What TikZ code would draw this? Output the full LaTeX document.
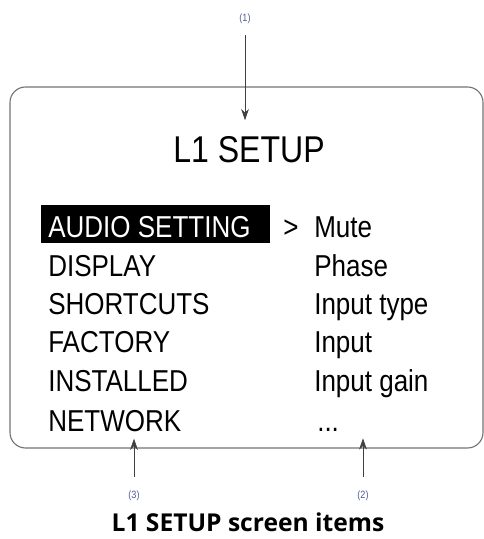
\documentclass[tikz,border=0pt]{standalone}
\usepackage{fontspec}
\setmainfont{Liberation Sans}[FakeStretch=0.86]
\newfontfamily\captionfont{Open Sans}
\usepackage{xcolor}
\usepackage{tikz}
\usetikzlibrary{arrows.meta}
\definecolor{calloutblue}{RGB}{80,90,150}

\begin{document}
\begin{tikzpicture}[x=0.025cm, y=-0.025cm,
    menuitem/.style={anchor=base west, inner sep=0pt, font=\fontsize{21.5}{22}\selectfont},
    callout/.style={inner sep=1pt, text=calloutblue, font=\fontsize{7.5}{8}\selectfont},
    pointer/.style={-{Stealth[length=8pt, width=5.5pt]}, draw=black!75, line width=0.5pt}]
        \useasboundingbox (0,0) rectangle (484,539);

        % Screen
        \draw[black!55, line width=0.8pt, rounded corners=11pt] (10,87) rectangle (483,448);
        \node[anchor=base, inner sep=0pt, font=\fontsize{26.5}{27}\selectfont]
            (title) at (249,162) {L1 SETUP};

        % Menu (left column)
        \fill[black] (41,205) rectangle (270,243);
        \node[menuitem, text=white] (audio) at (48,237) {AUDIO SETTING};
        \node[menuitem] (display) at (48,276) {DISPLAY};
        \node[menuitem] (shortcuts) at (48,314) {SHORTCUTS};
        \node[menuitem] (factory) at (48,352) {FACTORY};
        \node[menuitem] (installed) at (48,391) {INSTALLED};
        \node[menuitem] (network) at (48,431) {NETWORK};

        % Sub items (right column)
        \node[menuitem] (sel) at (283,237) {>};
        \node[menuitem] (mute) at (314,237) {Mute};
        \node[menuitem] (phase) at (314,276) {Phase};
        \node[menuitem] (intype) at (314,314) {Input type};
        \node[menuitem] (input) at (314,352) {Input};
        \node[menuitem] (ingain) at (314,391) {Input gain};
        \node[menuitem] (dots) at (317,431) {...};

        % Callouts
        \node[callout] (c1) at (245,19) {(1)};
        \draw[pointer, shorten <=7pt, shorten >=11pt] (c1) -- (c1 |- title.north);
        \node[callout] (c3) at (134,496) {(3)};
        \draw[pointer, shorten <=9pt] (c3) -- ([yshift=-5pt]c3 |- network.south);
        \node[callout] (c2) at (363,496) {(2)};
        \draw[pointer, shorten <=9pt] (c2) -- ([yshift=-5pt]c2 |- dots.south);

        % Caption
        \node[anchor=base, inner sep=0pt, font=\captionfont\bfseries\fontsize{17.5}{18}\selectfont]
            (caption) at (248,531) {L1 SETUP screen items};
    \end{tikzpicture}
\end{document}
